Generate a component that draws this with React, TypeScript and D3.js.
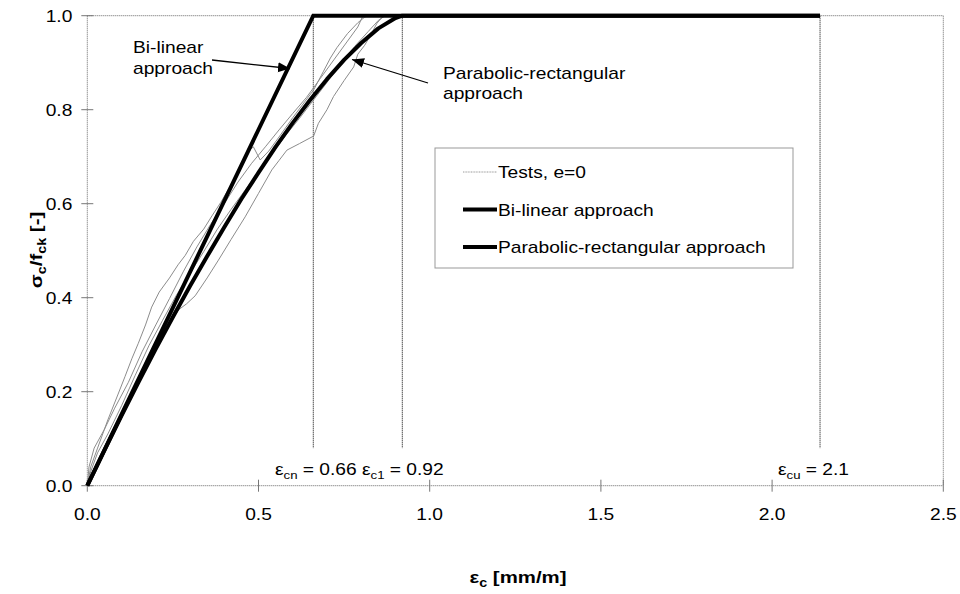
import React from "react";
import * as d3 from "d3";

// ---------- data ----------
const xTicks = [0, 0.5, 1.0, 1.5, 2.0, 2.5];
const yTicks = [0, 0.2, 0.4, 0.6, 0.8, 1.0];

const bilinear: [number, number][] = [
  [0, 0],
  [0.66, 1.0],
  [2.14, 1.0],
];

const parabolic: [number, number][] = [
  [0, 0], [0.05, 0.075], [0.1, 0.149], [0.15, 0.221], [0.2, 0.291], [0.25, 0.359],
  [0.3, 0.425], [0.35, 0.488], [0.4, 0.55], [0.45, 0.61], [0.5, 0.666], [0.55, 0.721],
  [0.6, 0.772], [0.65, 0.82], [0.7, 0.865], [0.75, 0.906], [0.8, 0.942], [0.85, 0.973],
  [0.9, 0.995], [0.92, 1.0], [2.14, 1.0],
];

const test1: [number, number][] = [
  [0, 0], [0.01, 0.04], [0.03, 0.08], [0.06, 0.14], [0.09, 0.195], [0.11, 0.232], [0.13, 0.27],
  [0.149, 0.303], [0.17, 0.342], [0.188, 0.38], [0.21, 0.412], [0.24, 0.442], [0.265, 0.47],
  [0.286, 0.49], [0.31, 0.52], [0.34, 0.546], [0.364, 0.574], [0.39, 0.603], [0.422, 0.643],
  [0.445, 0.676], [0.471, 0.712], [0.485, 0.721], [0.505, 0.693], [0.53, 0.712], [0.56, 0.742],
  [0.6, 0.783], [0.63, 0.812], [0.661, 0.842], [0.69, 0.882], [0.71, 0.91], [0.729, 0.932],
  [0.76, 0.962], [0.79, 0.985], [0.81, 0.997], [0.82, 1.0],
];

const test2: [number, number][] = [
  [0, 0], [0.02, 0.03], [0.05, 0.08], [0.08, 0.125], [0.11, 0.165], [0.15, 0.222], [0.188, 0.274],
  [0.23, 0.332], [0.266, 0.374], [0.29, 0.387], [0.315, 0.404], [0.35, 0.442], [0.383, 0.48],
  [0.42, 0.524], [0.461, 0.572], [0.5, 0.622], [0.539, 0.672], [0.56, 0.692], [0.583, 0.714],
  [0.62, 0.728], [0.661, 0.744], [0.675, 0.771], [0.7, 0.8], [0.719, 0.828], [0.75, 0.862],
  [0.778, 0.891], [0.79, 0.918], [0.81, 0.937], [0.83, 0.962], [0.846, 0.984], [0.865, 1.0],
];

const test3: [number, number][] = [
  [0, 0], [0.005, 0.04], [0.02, 0.08], [0.05, 0.12], [0.08, 0.165], [0.12, 0.22], [0.16, 0.285],
  [0.2, 0.342], [0.24, 0.398], [0.28, 0.455], [0.32, 0.508], [0.36, 0.556], [0.4, 0.6],
  [0.44, 0.646], [0.48, 0.686], [0.52, 0.721], [0.56, 0.757], [0.6, 0.792], [0.64, 0.826],
  [0.68, 0.866], [0.72, 0.906], [0.76, 0.946], [0.79, 0.976], [0.805, 1.0],
];

const test4: [number, number][] = [
  [0, 0], [0.01, 0.03], [0.03, 0.07], [0.06, 0.11], [0.1, 0.17], [0.14, 0.235], [0.18, 0.298],
  [0.22, 0.352], [0.26, 0.405], [0.3, 0.452], [0.34, 0.498], [0.38, 0.546], [0.42, 0.588],
  [0.46, 0.628], [0.5, 0.668], [0.54, 0.706], [0.58, 0.746], [0.62, 0.782], [0.66, 0.82],
  [0.7, 0.858], [0.74, 0.898], [0.78, 0.934], [0.82, 0.966], [0.85, 0.99], [0.87, 1.0],
];

const tests = [test1, test2, test3, test4];

const markerLines = [
  { x: 0.66, label: "cn", value: "0.66" },
  { x: 0.92, label: "c1", value: "0.92" },
  { x: 2.14, label: "cu", value: "2.1" },
];
const markerLineBottom = 0.08;

const legendItems = [
  { label: "Tests, e=0", kind: "test" },
  { label: "Bi-linear approach", kind: "thick" },
  { label: "Parabolic-rectangular approach", kind: "thick" },
];

// ---------- layout ----------
const W = 960;
const H = 594;
const left = 87.3;
const right = 943.3;
const top = 15.7;
const bottom = 485.7;
const SX = 1.2; // horizontal stretch of the original text

const FONT = "Liberation Sans, Arial, Helvetica, sans-serif";

function T({
  x,
  y,
  rotate = 0,
  anchor = "start",
  size = 16,
  bold = false,
  children,
}: {
  x: number;
  y: number;
  rotate?: number;
  anchor?: string;
  size?: number;
  bold?: boolean;
  children: React.ReactNode;
}) {
  return (
    <text
      transform={`translate(${x},${y}) rotate(${rotate}) scale(${SX},1)`}
      textAnchor={anchor}
      fontSize={size}
      fontWeight={bold ? "bold" : "normal"}
      fill="#000"
    >
      {children}
    </text>
  );
}

export default function App() {
  const x = d3.scaleLinear().domain([0, 2.5]).range([left, right]);
  const y = d3.scaleLinear().domain([0, 1]).range([bottom, top]);
  const line = d3
    .line<[number, number]>()
    .x((d) => x(d[0]))
    .y((d) => y(d[1]));

  const frameStyle = { stroke: "#666", strokeWidth: 1, strokeDasharray: "1 1", fill: "none" };

  return (
    <svg
      width={W}
      height={H}
      style={{ position: "absolute", left: 0, top: 0, background: "#fff" }}
      fontFamily={FONT}
    >
      <defs>
        <marker
          id="arrow"
          markerUnits="userSpaceOnUse"
          markerWidth="14"
          markerHeight="12"
          refX="12"
          refY="5"
          orient="auto"
        >
          <path d="M0,0 L12,5 L0,10 Z" fill="#000" />
        </marker>
      </defs>
      <rect x={0} y={0} width={W} height={H} fill="#fff" />

      {/* marker vertical lines */}
      {markerLines.map((m) => (
        <line
          key={m.label}
          x1={x(m.x)}
          x2={x(m.x)}
          y1={y(1)}
          y2={y(markerLineBottom)}
          stroke="#000"
          strokeWidth={1}
          strokeDasharray="1 1"
        />
      ))}

      {/* frame */}
      <line x1={left} x2={right} y1={top} y2={top} {...frameStyle} />
      <line x1={right} x2={right} y1={top} y2={bottom} {...frameStyle} />
      <line x1={left} x2={right} y1={bottom} y2={bottom} {...frameStyle} />
      <line x1={left} x2={left} y1={top} y2={bottom} {...frameStyle} />

      {/* ticks */}
      {yTicks.map((t) => (
        <g key={"y" + t}>
          <line x1={left - 6} x2={left + 6} y1={y(t)} y2={y(t)} stroke="#777" strokeWidth={1} />
          <T x={left - 15} y={y(t) + 6} anchor="end">
            {t.toFixed(1)}
          </T>
        </g>
      ))}
      {xTicks.map((t) => (
        <g key={"x" + t}>
          <line x1={x(t)} x2={x(t)} y1={bottom - 6} y2={bottom + 6} stroke="#777" strokeWidth={1} />
          <T x={x(t)} y={bottom + 34} anchor="middle">
            {t.toFixed(1)}
          </T>
        </g>
      ))}

      {/* test curves */}
      {tests.map((t, i) => (
        <path key={"t" + i} d={line(t) || ""} fill="none" stroke="#8c8c8c" strokeWidth={1} />
      ))}

      {/* approaches */}
      <path d={line(parabolic) || ""} fill="none" stroke="#000" strokeWidth={4} strokeLinejoin="round" />
      <path d={line(bilinear) || ""} fill="none" stroke="#000" strokeWidth={4} strokeLinejoin="miter" />

      {/* marker labels */}
      {markerLines.map((m, i) => {
        const xs = [275, 362, 778];
        return (
          <T key={"ml" + m.label} x={xs[i]} y={475}>
            ε
            <tspan fontSize={11} dy={4}>
              {m.label}
            </tspan>
            <tspan dy={-4}>{" = " + m.value}</tspan>
          </T>
        );
      })}

      {/* annotations */}
      <T x={133} y={53}>
        <tspan x={0}>Bi-linear</tspan>
        <tspan x={0} dy={21.5}>approach</tspan>
      </T>
      <line x1={212} y1={60} x2={290} y2={68.5} stroke="#000" strokeWidth={1.3} markerEnd="url(#arrow)" />

      <T x={443} y={79}>
        <tspan x={0}>Parabolic-rectangular</tspan>
        <tspan x={0} dy={20}>approach</tspan>
      </T>
      <line x1={428} y1={83} x2={352} y2={59.5} stroke="#000" strokeWidth={1.3} markerEnd="url(#arrow)" />

      {/* legend */}
      <rect x={435} y={148} width={358} height={120} fill="#fff" stroke="#999" strokeWidth={1} />
      {legendItems.map((it, i) => {
        const ly = 172 + i * 37.5;
        return (
          <g key={it.label}>
            {it.kind === "test" ? (
              <line x1={463} x2={497} y1={ly} y2={ly} stroke="#9a9a9a" strokeWidth={1} strokeDasharray="1 0.6" />
            ) : (
              <line x1={463} x2={497} y1={ly} y2={ly} stroke="#000" strokeWidth={4} />
            )}
            <T x={498} y={ly + 6}>{it.label}</T>
          </g>
        );
      })}

      {/* axis titles */}
      <T x={518} y={583} anchor="middle" size={17} bold>
        ε<tspan fontSize={12} dy={4}>c</tspan>
        <tspan dy={-4}> [mm/m]</tspan>
      </T>
      <T x={42} y={250} rotate={-90} anchor="middle" size={17} bold>
        σ<tspan fontSize={12} dy={4}>c</tspan>
        <tspan dy={-4}>/f</tspan>
        <tspan fontSize={12} dy={4}>ck</tspan>
        <tspan dy={-4}> [-]</tspan>
      </T>
    </svg>
  );
}
